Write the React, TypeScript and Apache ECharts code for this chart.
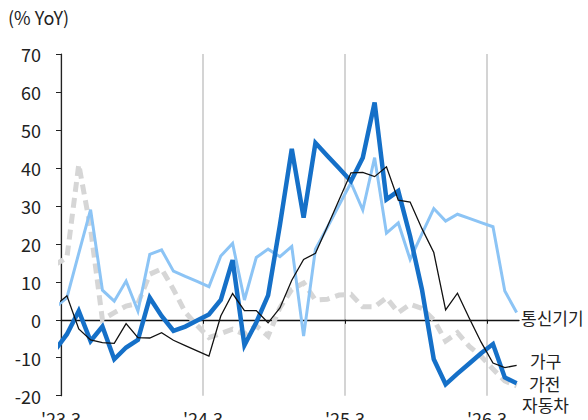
import React, { useEffect, useRef } from "react";
import * as echarts from "echarts";

// Months (first one, '23.2, lies just left of the axis start and is clipped)
const months = [
  "'23.2", "'23.3", "'23.4", "'23.5", "'23.6", "'23.7", "'23.8", "'23.9", "'23.10", "'23.11", "'23.12",
  "'24.1", "'24.2", "'24.3", "'24.4", "'24.5", "'24.6", "'24.7", "'24.8", "'24.9", "'24.10", "'24.11", "'24.12",
  "'25.1", "'25.2", "'25.3", "'25.4", "'25.5", "'25.6", "'25.7", "'25.8", "'25.9", "'25.10", "'25.11", "'25.12",
  "'26.1", "'26.2", "'26.3", "'26.4", "'26.5",
];

const yearLabels = ["'23.3", "'24.3", "'25.3", "'26.3"];

// % YoY
const telecom = [
  3.2, 5.8, 17.5, 29.0, 7.8, 4.9, 10.2, 2.3, 17.2, 18.4, 12.8,
  11.4, 10.1, 8.7, 16.8, 20.1, 5.2, 16.4, 18.6, 16.6, 19.3, -4.3, 18.6,
  24.3, 30.2, 36.1, 28.9, 42.7, 22.8, 25.5, 15.9, 22.6, 29.3, 26.0, 27.8,
  26.7, 25.6, 24.5, 7.6, 1.9,
];
const appliance = [
  -8.0, -3.8, 2.3, -5.6, -1.8, -10.4, -7.3, -5.3, 5.8, 1.0, -2.9,
  -1.8, -0.2, 1.4, 5.2, 15.7, -6.7, -0.7, 6.4, 25.0, 45.0, 26.9, 46.6,
  43.2, 39.9, 36.5, 42.7, 57.2, 31.7, 33.9, 22.0, 8.0, -10.4, -17.0, -14.2,
  -11.5, -8.8, -6.4, -15.2, -16.7,
];
const furniture = [
  3.7, 6.3, -2.4, -5.3, -6.0, -6.2, -1.0, -4.7, -4.8, -3.4, -5.4,
  -6.8, -8.2, -9.6, 1.0, 6.9, 2.4, 2.4, -0.8, 3.1, 10.4, 15.9, 17.5,
  24.5, 31.6, 38.7, 38.8, 37.7, 40.3, 31.5, 31.0, 24.0, 17.7, 2.6, 7.0,
  0.4, -5.9, -11.4, -12.6, -12.0,
];
const autos = [
  14.5, 16.4, 40.9, 24.0, 0.0, 1.9, 3.6, 4.3, 12.0, 13.4, 8.0,
  2.0, -1.5, -4.7, -3.6, -2.5, -3.8, -1.6, -4.3, 3.2, 8.0, 9.7, 5.2,
  5.4, 6.5, 6.7, 3.4, 3.4, 5.8, 1.9, 4.1, 3.0, 0.0, -5.6, -3.4,
  -7.0, -9.6, -13.0, -16.1, -17.4,
];

const FONT = "'Noto Sans CJK KR', 'Noto Sans', sans-serif";
const TEXT = "#222";

// x position: month i sits at the middle of its month band; band of '23.3 starts at 0
const toPoints = (vals: number[]) => vals.map((v, i) => [i - 0.5, v]);
const yearTicks = yearLabels.map((l) => months.indexOf(l) - 1);

export default function App() {
  const ref = useRef<HTMLDivElement>(null);

  useEffect(() => {
    if (!ref.current) return;
    const chart = echarts.init(ref.current, undefined, { renderer: "svg" });

    const mk = (name: string, data: number[], color: string, width: number, z: number, dashed?: number[]) => ({
      name,
      type: "line",
      data: toPoints(data),
      xAxisIndex: 0,
      yAxisIndex: 0,
      showSymbol: false,
      symbol: "none",
      z,
      lineStyle: { color, width, type: dashed || "solid", cap: "butt", join: "miter" },
      emphasis: { disabled: true },
    });

    chart.setOption({
      animation: false,
      grid: { left: 61, right: 69, top: 54, bottom: 24.3, containLabel: false, outerBoundsMode: "none" },
      xAxis: [
        {
          type: "value",
          position: "bottom",
          min: 0,
          max: 38.7,
          interval: 12,
          axisLine: { show: false, onZero: false },
          axisTick: { show: false, customValues: yearTicks },
          axisLabel: {
            customValues: yearTicks,
            formatter: (v: number) => {
              const idx = yearTicks.indexOf(Math.round(v));
              return idx >= 0 ? yearLabels[idx] : "";
            },
            fontFamily: FONT,
            fontSize: 18,
            color: TEXT,
            margin: 13,
          },
          splitLine: { show: true, lineStyle: { color: "#d4d4d4", width: 2 } },
        },
        {
          type: "value",
          position: "bottom",
          min: 0,
          max: 38.7,
          interval: 12,
          axisLine: { show: true, onZero: true, lineStyle: { color: "#111", width: 1.3 } },
          axisTick: { show: true, customValues: yearTicks.slice(1), length: 4, lineStyle: { color: "#111", width: 1 } },
          axisLabel: { show: false },
          splitLine: { show: false },
        },
      ],
      yAxis: {
        type: "value",
        min: -20,
        max: 70,
        interval: 10,
        axisLine: { show: true, onZero: false, lineStyle: { color: "#222", width: 1.2 } },
        axisTick: { show: true, length: 5, lineStyle: { color: "#222" } },
        axisLabel: { fontFamily: FONT, fontSize: 18, color: TEXT, margin: 20 },
        splitLine: { show: false },
      },
      series: [
        mk("자동차", autos, "#d6d6d6", 5, 2, [10, 6]),
        mk("통신기기", telecom, "#8cc4f5", 3, 3),
        mk("가전", appliance, "#1570c8", 4.5, 4),
        mk("가구", furniture, "#111111", 1.3, 5),
      ],
      graphic: [
        { type: "text", left: 8, top: 8, style: { text: "(% YoY)", font: `18px ${FONT}`, fill: TEXT } },
        { type: "text", x: 521, y: 317, style: { text: "통신기기", font: `17px ${FONT}`, fill: TEXT, verticalAlign: "middle" } },
        { type: "text", x: 530, y: 360, style: { text: "가구", font: `17px ${FONT}`, fill: TEXT, verticalAlign: "middle" } },
        { type: "text", x: 529, y: 383, style: { text: "가전", font: `17px ${FONT}`, fill: TEXT, verticalAlign: "middle" } },
        { type: "text", x: 522, y: 404, style: { text: "자동차", font: `17px ${FONT}`, fill: TEXT, verticalAlign: "middle" } },
      ],
    });

    return () => chart.dispose();
  }, []);

  return (
    <div
      ref={ref}
      style={{ position: "fixed", left: 0, top: 0, width: 588, height: 420, background: "#fff" }}
    />
  );
}
